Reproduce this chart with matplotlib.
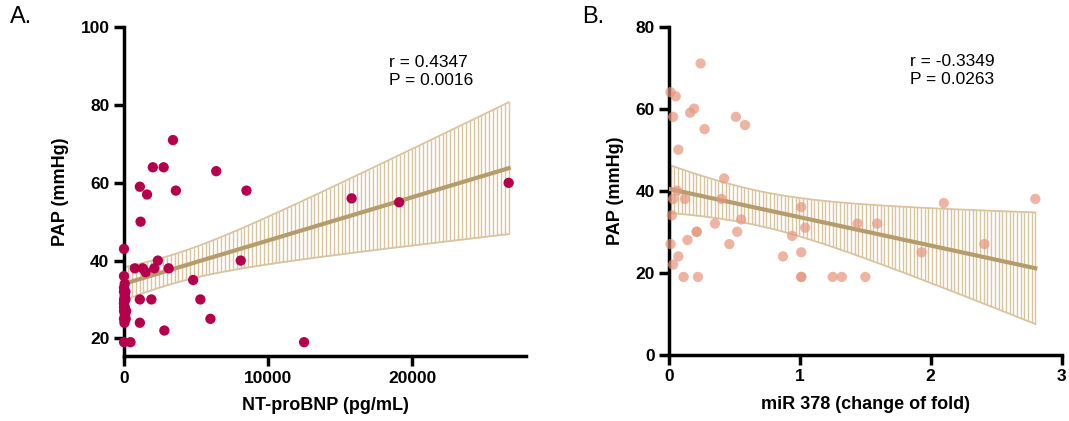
import numpy as np
import matplotlib.pyplot as plt

plt.rcParams['font.family'] = ['Liberation Sans', 'DejaVu Sans']

# panel A: NT-proBNP vs PAP
bnp_x = [3400, 2000, 2750, 6400, 1100, 1600, 3600, 8500, 15800, 19100, 26700,
         1150, 0, 2350, 8100, 750, 1300, 1500, 2100, 3100, 4800, 1100, 1900,
         5300, 6000, 1100, 2800, 12500, 0, 450,
         0, 50, 0, 100, 0, 50, 0, 100, 0, 50, 0, 150, 0, 80, 0, 120, 30, 60, 0]
bnp_y = [71, 64, 64, 63, 59, 57, 58, 58, 56, 55, 60,
         50, 43, 40, 40, 38, 38, 37, 38, 38, 35, 30, 30,
         30, 25, 24, 22, 19, 19, 19,
         36, 34, 33, 32, 32, 31, 30, 30, 29, 28, 28, 27, 27, 26, 25, 25, 24, 26, 29]

# panel B: miR 378 vs PAP
mir_x = [0.24, 0.01, 0.05, 0.03, 0.16, 0.19, 0.27, 0.51, 0.58, 0.07, 0.42,
         0.06, 0.03, 0.12, 0.40, 0.02, 0.55, 0.35, 0.21, 0.21, 0.52, 0.14,
         0.46, 0.01, 0.07, 0.03, 0.11, 0.22, 1.01, 1.04, 0.94, 0.87, 1.01,
         1.01, 1.01, 1.25, 1.32, 1.50, 1.44, 1.59, 1.93, 2.10, 2.80, 2.41]
mir_y = [71, 64, 63, 58, 59, 60, 55, 58, 56, 50, 43,
         40, 38, 38, 38, 34, 33, 32, 30, 30, 30, 28,
         27, 27, 24, 22, 19, 19, 36, 31, 29, 24, 25,
         19, 19, 19, 19, 19, 32, 32, 25, 37, 38, 27]

line_col = '#b59c6c'
band_col = '#d8c49e'


def fit_band(ax, x, y, tcrit):
    x = np.asarray(x, float)
    y = np.asarray(y, float)
    n = len(x)
    slope, icpt = np.polyfit(x, y, 1)
    res = y - (icpt + slope * x)
    s = np.sqrt(np.sum(res ** 2) / (n - 2))
    xs = np.linspace(x.min(), x.max(), 100)
    ys = icpt + slope * xs
    se = s * np.sqrt(1 / n + (xs - x.mean()) ** 2 / np.sum((x - x.mean()) ** 2))
    lo, hi = ys - tcrit * se, ys + tcrit * se
    ax.vlines(xs, lo, hi, color=band_col, lw=1.0, zorder=1)
    ax.plot(xs, lo, color=band_col, lw=1.3, zorder=1)
    ax.plot(xs, hi, color=band_col, lw=1.3, zorder=1)
    ax.plot(xs, ys, color=line_col, lw=3, zorder=3)


def style(ax):
    for side in ['top', 'right']:
        ax.spines[side].set_visible(False)
    for side in ['left', 'bottom']:
        ax.spines[side].set_linewidth(2.5)
    ax.tick_params(width=2.5, length=7, labelsize=12.5)
    for lab in ax.get_xticklabels() + ax.get_yticklabels():
        lab.set_fontweight('bold')


fig = plt.figure(figsize=(10.69, 4.21), dpi=100)

axA = fig.add_axes([0.116, 0.154, 0.376, 0.781])
fit_band(axA, bnp_x, bnp_y, 2.012)
axA.scatter(bnp_x, bnp_y, s=55, color='#b5004b', zorder=4, edgecolors='none',
            clip_on=False)
axA.set_xlim(0, 27900)
axA.set_ylim(15.4, 100)
axA.set_xticks([0, 10000, 20000])
axA.set_yticks([20, 40, 60, 80, 100])
style(axA)
axA.set_xlabel('NT-proBNP (pg/mL)', fontsize=13, fontweight='bold', labelpad=8)
axA.set_ylabel('PAP (mmHg)', fontsize=13, fontweight='bold', labelpad=8)
axA.text(0.66, 0.915, 'r = 0.4347\nP = 0.0016', transform=axA.transAxes,
         fontsize=12.5, va='top', linespacing=1.25)

axB = fig.add_axes([0.626, 0.157, 0.367, 0.78])
fit_band(axB, mir_x, mir_y, 2.018)
axB.scatter(mir_x, mir_y, s=55, color='#e8957c', alpha=0.7, zorder=4,
            edgecolors='none', clip_on=False)
axB.set_xlim(0, 3)
axB.set_ylim(0, 80)
axB.set_xticks([0, 1, 2, 3])
axB.set_yticks([0, 20, 40, 60, 80])
style(axB)
axB.set_xlabel('miR 378 (change of fold)', fontsize=13, fontweight='bold', labelpad=8)
axB.set_ylabel('PAP (mmHg)', fontsize=13, fontweight='bold', labelpad=8)
axB.text(0.615, 0.915, 'r = -0.3349\nP = 0.0263', transform=axB.transAxes,
         fontsize=12.5, va='top', linespacing=1.25)

fig.text(0.009, 0.945, 'A.', fontsize=17)
fig.text(0.545, 0.945, 'B.', fontsize=17)

fig.savefig('out.png', dpi=100)
